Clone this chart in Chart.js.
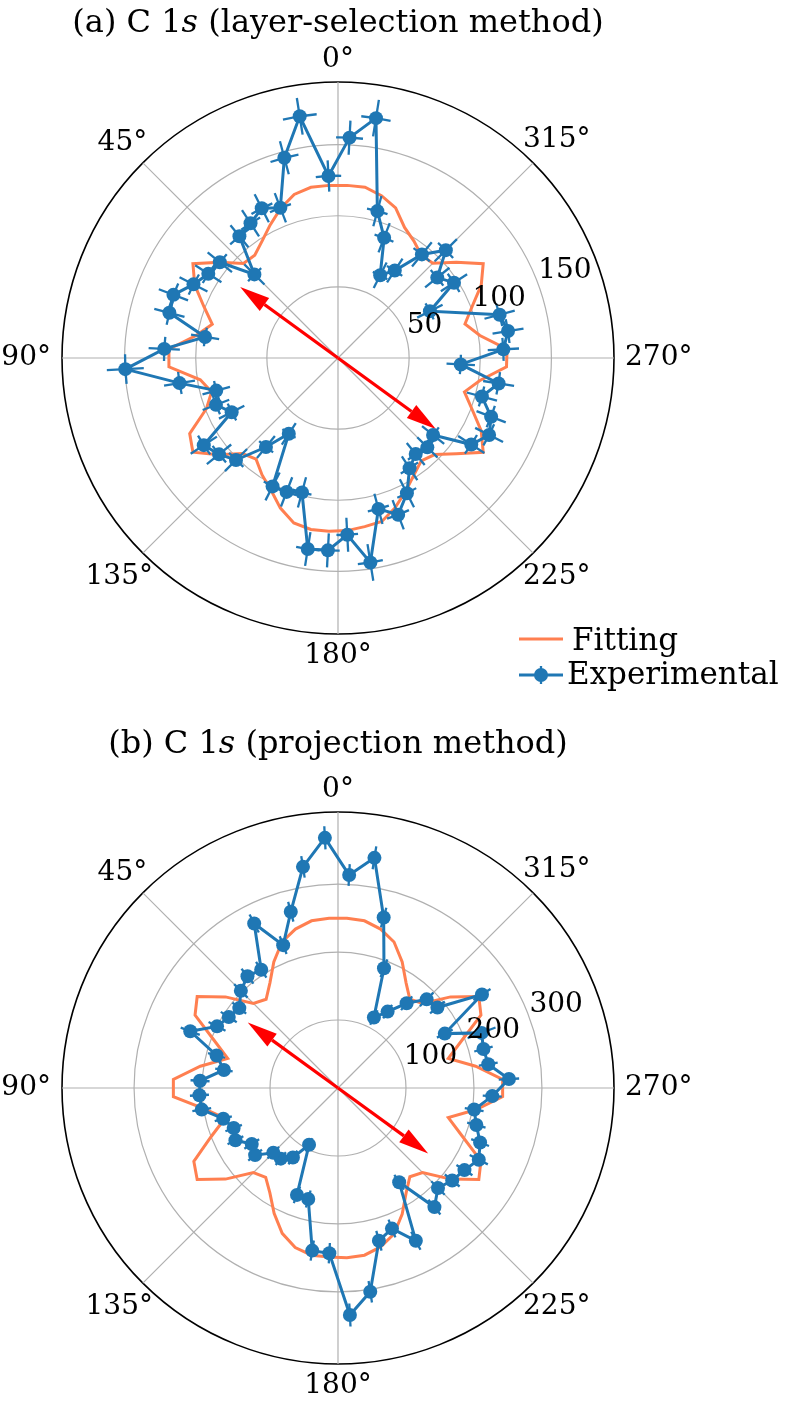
<!DOCTYPE html>
<html>
<head>
<meta charset="utf-8">
<script src="https://cdn.jsdelivr.net/npm/chart.js@4.4.0/dist/chart.umd.min.js"></script>
<style>
  body { margin: 0; background: #fff; }
  #wrap { position: relative; width: 792px; height: 1409px; }
  canvas { position: absolute; left: 0; }
</style>
</head>
<body>
<div id="wrap">
  <canvas id="chartA" width="792" height="705" style="top:0"></canvas>
  <canvas id="chartB" width="792" height="704" style="top:705px"></canvas>
</div>
<script>
// measurement angles, counter-clockwise from the top (degrees)
let theta = [3, 9, 15, 21, 27, 33, 39, 45, 51, 57, 63, 69, 75, 81, 87,
    93, 99, 105, 111, 117, 123, 129, 135, 141, 147, 153, 159, 165, 171, 177,
    183, 189, 195, 201, 207, 213, 219, 225, 231, 237, 243, 249, 255, 261, 267,
    273, 279, 285, 291, 297, 303, 309, 315, 321, 327, 333, 339, 345, 351, 357];

// (a) layer-selection method
let expA = [128.1, 172, 145.7, 113.1, 118.1, 112.9, 110.1, 83.1, 106.9, 108.7, 114, 123.9, 122.7, 94.6, 122.3,
    149.7, 112.8, 88.6, 91.9, 83.9, 112.5, 107.6, 101.4, 80.5, 63.5, 101.3, 100.8, 97.8, 135.9, 135.4,
    124.4, 145.5, 109.8, 118, 106.7, 92.4, 86.8, 88.8, 86, 111.7, 119.2, 115.3, 104.7, 114.3, 86.4,
    116.4, 121, 117.6, null, 72.5, 97.2, 89.8, 107.2, 93.7, 73.3, 65.3, 90.5, 106.9, 170.7, 155.1];
let fitA = [121.5, 121.5, 119, 112.6, 105, 98, 93, 94, 107, 121.6, 113, 101, 91.5, 101, 119,
    119, 98, 92, 99, 117, 121.6, 108, 95, 91.5, 98, 104, 113, 120, 122, 122,
    121.5, 120, 119, 112.5, 105, 98, 93, 96, 107, 121.7, 113, 101, 92, 101, 118.6,
    119, 101, 92.4, 101, 113, 121.7, 107, 94.3, 93, 98, 103, 113, 118.1, 121.5, 121.5];
let errRA = [11, 13, 12, 11, 11, 11, 10, 10, 11, 11, 11, 11, 11, 10, 11,
    13, 11, 10, 10, 10, 11, 11, 11, 10, 9, 11, 11, 11, 12, 12,
    12, 13, 11, 11, 11, 10, 10, 10, 10, 11, 11, 11, 11, 11, 10,
    11, 11, 11, 0, 10, 11, 11, 11, 11, 10, 10, 11, 11, 13, 12];
let errTA = [4, 4, 4, 4, 4, 4, 4.5, 4.5, 4, 4, 4, 4, 4, 4, 4,
    4, 4, 4.5, 4.5, 4.5, 4, 4, 4, 4.5, 5, 4, 4, 4, 3.5, 3.5,
    3.5, 3.5, 4, 4, 4, 4.5, 4.5, 4.5, 4.5, 4, 4, 4, 4, 4, 4.5,
    4, 4, 4, 0, 5, 4.5, 4.5, 4, 4.5, 5, 5, 4.5, 4, 3.5, 3.5];
let rTicksA = [50, 100, 150];
let rMaxA = 194;
let arrowAngleA = 54;
let arrowLenA = 85;

// (b) projection method
let expB = [368.5, 329.4, 268.4, 225.1, 271.6, 207.4, 211.6, 202.1, 186.8, 191.6, 199.7, 232.8, 184.9, 169.9, 203.2,
    204.1, 202.9, 174.7, 164.4, 169.3, 151.3, 156.9, 134.6, 133.7, 121.8, 93.8, 168.4, 169, 242.2, 243.4,
    334.4, 303.4, 232.6, 221.5, 252.2, 165.2, 225.4, 208, 216.2, 221.8, 232.4, 223.9, 210.7, 202.8, 227.2,
    251.8, 223.8, 221.5, 226.2, 176.3, 252.5, 188.2, 184.4, 160.4, 134, 116.3, 188.7, 259.6, 342.8, 313.7];
let fitB = [250, 249, 242, 230, 208, 184, 168, 176, 213, 247, 236, 195, 168, 205, 242.5,
    242.5, 198, 172, 200, 238, 247, 213, 176, 169, 184, 207, 229, 243, 249, 249,
    250, 249, 242, 230, 208, 184, 168, 176, 213, 247, 236, 195, 168, 205, 242.5,
    242.5, 205, 168, 195, 236, 247, 213, 176, 168, 184, 208, 230, 242, 249, 250];
let errRB = [17, 16, 15, 14, 15, 14, 14, 14, 13, 14, 14, 15, 13, 13, 14,
    14, 14, 13, 13, 13, 13, 13, 12, 12, 12, 11, 13, 13, 15, 15,
    17, 16, 15, 14, 15, 13, 14, 14, 14, 14, 15, 14, 14, 14, 14,
    15, 14, 14, 22, 13, 15, 14, 14, 13, 12, 12, 14, 15, 17, 16];
let errTB = [1.2, 1.2, 1.2, 1.2, 1.2, 1.2, 1.2, 1.2, 1.2, 1.2, 1.2, 1.2, 1.2, 1.2, 1.2,
    1.2, 1.2, 1.2, 1.2, 1.2, 1.2, 1.2, 1.2, 1.2, 1.2, 1.2, 1.2, 1.2, 1.2, 1.2,
    1.2, 1.2, 1.2, 1.2, 1.2, 1.2, 1.2, 1.2, 1.2, 1.2, 1.2, 1.2, 1.2, 1.2, 1.2,
    1.2, 1.2, 1.2, 1.2, 1.2, 1.2, 1.2, 1.2, 1.2, 1.2, 1.2, 1.2, 1.2, 1.2, 1.2];
let rTicksB = [100, 200, 300];
let rMaxB = 406;
let arrowAngleB = 54;
let arrowLenB = 164;

let angleTicks = [0, 45, 90, 135, 180, 225, 270, 315];

const FONT = "'DejaVu Serif', serif";
const STEP = 3;                 // radar slots every 3 degrees
const N = 360 / STEP;
const BLUE = '#1f77b4';
const ORANGE = '#ff7f50';

// Chart.js radar goes clockwise, the figure goes counter-clockwise
function idxOf(deg) {
    return ((360 - deg) % 360) / STEP;
}

function toRadar(values) {
    let out = new Array(N).fill(null);
    theta.forEach((t, k) => { out[idxOf(t)] = values[k]; });
    return out;
}

function polar(s, deg, dist) {
    let a = deg * Math.PI / 180;
    return { x: s.xCenter - dist * Math.sin(a), y: s.yCenter - dist * Math.cos(a) };
}

function fontOf(italic, size) {
    return (italic ? 'italic ' : '') + size + 'px ' + FONT;
}

const errorBars = {
    id: 'errorBars',
    beforeDatasetDraw(chart, args) {
        let ds = chart.data.datasets[args.index];
        if (!ds.errR) return;
        let s = chart.scales.r;
        let ctx = chart.ctx;
        ctx.save();
        ctx.strokeStyle = ds.borderColor;
        ctx.lineWidth = 2.3;
        theta.forEach((t, k) => {
            let v = ds.values[k];
            if (v === null) return;
            let i = idxOf(t);
            let p1 = s.getPointPositionForValue(i, v - ds.errR[k]);
            let p2 = s.getPointPositionForValue(i, v + ds.errR[k]);
            ctx.beginPath();
            ctx.moveTo(p1.x, p1.y);
            ctx.lineTo(p2.x, p2.y);
            ctx.stroke();
            let a = s.getIndexAngle(i) - Math.PI / 2;
            let d = s.getDistanceFromCenterForValue(v);
            let da = ds.errT[k] * Math.PI / 180;
            ctx.beginPath();
            ctx.arc(s.xCenter, s.yCenter, d, a - da, a + da);
            ctx.stroke();
        });
        ctx.restore();
    }
};

function drawArrow(ctx, x0, y0, x1, y1) {
    let ang = Math.atan2(y1 - y0, x1 - x0);
    let hl = 30, hw = 8;
    let bx = x1 - hl * Math.cos(ang), by = y1 - hl * Math.sin(ang);
    ctx.beginPath();
    ctx.moveTo(x0, y0);
    ctx.lineTo(bx, by);
    ctx.stroke();
    ctx.beginPath();
    ctx.moveTo(x1, y1);
    ctx.lineTo(bx + hw * Math.sin(ang), by - hw * Math.cos(ang));
    ctx.lineTo(bx - hw * Math.sin(ang), by + hw * Math.cos(ang));
    ctx.closePath();
    ctx.fill();
}

function decorPlugin(cfg) {
    return {
        id: 'decor',
        beforeDatasetsDraw(chart) {
            let s = chart.scales.r, ctx = chart.ctx;
            let d = s.getDistanceFromCenterForValue(cfg.arrowLen);
            let p1 = polar(s, cfg.arrowAngle, d);
            let p2 = polar(s, cfg.arrowAngle + 180, d);
            ctx.save();
            ctx.strokeStyle = '#ff0000';
            ctx.fillStyle = '#ff0000';
            ctx.lineWidth = 3.2;
            drawArrow(ctx, s.xCenter, s.yCenter, p1.x, p1.y);
            drawArrow(ctx, s.xCenter, s.yCenter, p2.x, p2.y);
            ctx.restore();
        },
        afterDraw(chart) {
            let s = chart.scales.r, ctx = chart.ctx;
            ctx.save();
            ctx.fillStyle = '#000';

            // title
            ctx.textAlign = 'left';
            ctx.textBaseline = 'alphabetic';
            let total = 0;
            cfg.title.forEach(p => {
                ctx.font = fontOf(p.italic, 32);
                p.w = ctx.measureText(p.t).width;
                total += p.w;
            });
            let x = s.xCenter - total / 2;
            cfg.title.forEach(p => {
                ctx.font = fontOf(p.italic, 32);
                ctx.fillText(p.t, x, cfg.titleY);
                x += p.w;
            });

            // angle labels
            ctx.font = fontOf(false, 28);
            ctx.textAlign = 'center';
            ctx.textBaseline = 'middle';
            angleTicks.forEach(t => {
                let label = t + '°';
                let w = ctx.measureText(label).width;
                let sn = Math.sin(t * Math.PI / 180);
                let dist = s.drawingArea + 22 + (w / 2 - 11) * sn * sn;
                let p = polar(s, t, dist);
                ctx.fillText(label, p.x, p.y);
            });

            // radial tick labels along 22.5 deg above the right axis
            ctx.textAlign = 'left';
            ctx.textBaseline = 'alphabetic';
            cfg.rTicks.forEach(v => {
                let p = polar(s, 292.5, s.getDistanceFromCenterForValue(v));
                ctx.fillText(String(v), p.x + 3, p.y + 2);
            });

            // legend
            if (cfg.legend) {
                ctx.font = fontOf(false, 31);
                ctx.lineWidth = 3;
                ctx.strokeStyle = ORANGE;
                ctx.beginPath();
                ctx.moveTo(519, 639);
                ctx.lineTo(563, 639);
                ctx.stroke();
                ctx.fillStyle = '#000';
                ctx.fillText('Fitting', 572, 650);

                ctx.strokeStyle = BLUE;
                ctx.fillStyle = BLUE;
                ctx.beginPath();
                ctx.moveTo(519, 675);
                ctx.lineTo(563, 675);
                ctx.stroke();
                ctx.lineWidth = 2.3;
                ctx.beginPath();
                ctx.moveTo(541, 666);
                ctx.lineTo(541, 684);
                ctx.stroke();
                ctx.beginPath();
                ctx.arc(541, 675, 7, 0, Math.PI * 2);
                ctx.fill();
                ctx.fillStyle = '#000';
                ctx.fillText('Experimental', 567, 684);
            }
            ctx.restore();
        }
    };
}

function makeChart(id, exp, fit, errR, errT, rTicks, rMax, padTop, padBottom, deco) {
    let labels = [];
    for (let i = 0; i < N; i++) labels.push(((360 - i * STEP) % 360) + '°');

    return new Chart(document.getElementById(id), {
        type: 'radar',
        data: {
            labels: labels,
            datasets: [
                {
                    label: 'Experimental',
                    data: toRadar(exp),
                    values: exp,
                    errR: errR,
                    errT: errT,
                    borderColor: BLUE,
                    backgroundColor: BLUE,
                    borderWidth: 3,
                    pointRadius: 7,
                    pointBackgroundColor: BLUE,
                    pointBorderWidth: 0,
                    pointHoverRadius: 7,
                    spanGaps: true,
                    fill: false,
                    order: 0
                },
                {
                    label: 'Fitting',
                    data: toRadar(fit),
                    borderColor: ORANGE,
                    borderWidth: 3,
                    pointRadius: 0,
                    pointHoverRadius: 0,
                    spanGaps: true,
                    fill: false,
                    order: 1
                }
            ]
        },
        options: {
            responsive: false,
            animation: false,
            events: [],
            devicePixelRatio: 1,
            layout: { padding: { left: 62, right: 178, top: padTop, bottom: padBottom } },
            plugins: {
                legend: { display: false },
                tooltip: { enabled: false },
                title: { display: false }
            },
            scales: {
                r: {
                    min: 0,
                    max: rMax,
                    startAngle: 0,
                    afterBuildTicks: sc => {
                        sc.ticks = [0].concat(rTicks, [rMax]).map(v => ({ value: v }));
                    },
                    ticks: { display: false },
                    pointLabels: { display: false },
                    grid: {
                        circular: true,
                        color: c => (c.tick && c.tick.value === rMax) ? '#000000' : '#b0b0b0',
                        lineWidth: c => (c.tick && c.tick.value === rMax) ? 1.6 : 1.2
                    },
                    angleLines: {
                        display: true,
                        color: '#b0b0b0',
                        lineWidth: c => (c.index % 15 === 0) ? 1.2 : 0
                    }
                }
            }
        },
        plugins: [errorBars, decorPlugin(deco)]
    });
}

makeChart('chartA', expA, fitA, errRA, errTA, rTicksA, rMaxA, 82, 71, {
    title: [{ t: '(a) C 1', italic: false }, { t: 's', italic: true }, { t: ' (layer-selection method)', italic: false }],
    titleY: 32,
    rTicks: rTicksA,
    arrowAngle: arrowAngleA,
    arrowLen: arrowLenA,
    legend: true
});

makeChart('chartB', expB, fitB, errRB, errTB, rTicksB, rMaxB, 107, 45, {
    title: [{ t: '(b) C 1', italic: false }, { t: 's', italic: true }, { t: ' (projection method)', italic: false }],
    titleY: 48,
    rTicks: rTicksB,
    arrowAngle: arrowAngleB,
    arrowLen: arrowLenB,
    legend: false
});
</script>
</body>
</html>
